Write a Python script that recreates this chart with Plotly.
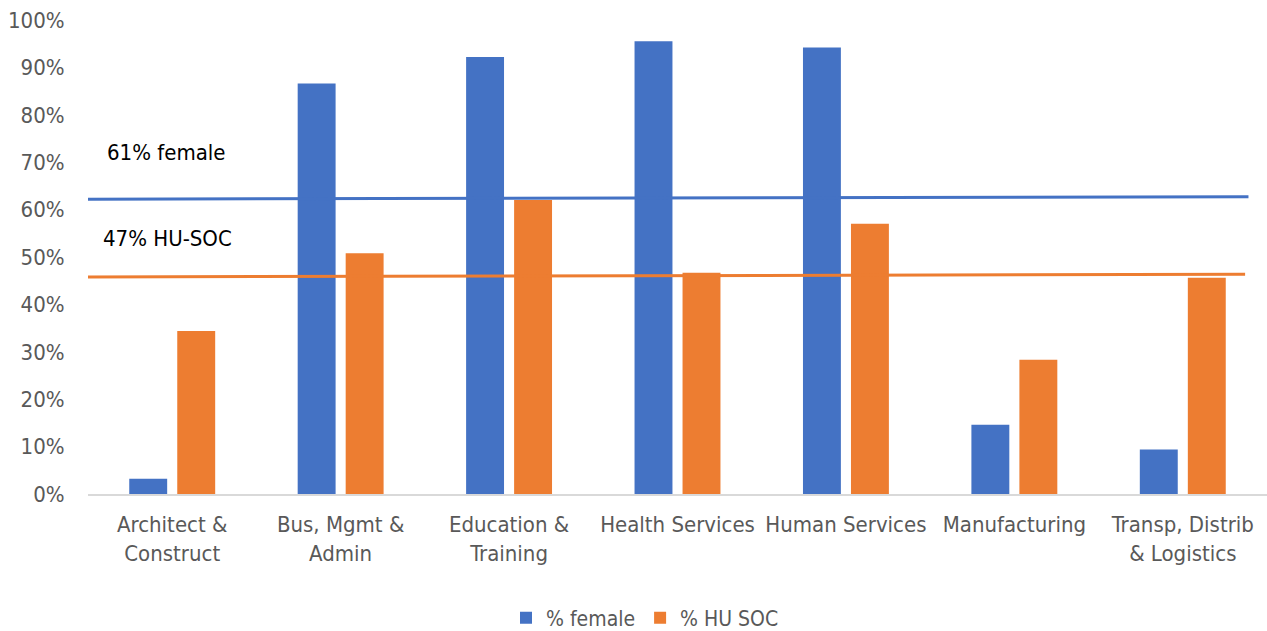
import plotly.graph_objects as go

categories = [
    "Architect &<br>Construct",
    "Bus, Mgmt &<br>Admin",
    "Education &<br>Training",
    "Health Services",
    "Human Services",
    "Manufacturing",
    "Transp, Distrib<br>& Logistics",
]
pct_female = [0.032, 0.866, 0.922, 0.955, 0.942, 0.146, 0.094]
pct_hu_soc = [0.344, 0.508, 0.620, 0.467, 0.570, 0.283, 0.456]

# overall reference lines (start/end positions along the category axis)
line_x_female = [-0.52, 6.39]
line_y_female = [0.622, 0.627]
line_x_hu = [-0.55, 6.37]
line_y_hu = [0.458, 0.4635]

tick_vals = [i / 10 for i in range(11)]
tick_text = [f"{i * 10}%" for i in range(11)]

BLUE = "#4472C4"
ORANGE = "#ED7D31"
FONT = "Liberation Sans Narrow, DejaVu Sans Condensed, Arial Narrow, sans-serif"

fig = go.Figure()
fig.add_trace(go.Bar(x=categories, y=pct_female, name="% female",
                     marker=dict(color=BLUE, line=dict(width=0))))
fig.add_trace(go.Bar(x=categories, y=pct_hu_soc, name="% HU SOC",
                     marker=dict(color=ORANGE, line=dict(width=0))))
fig.add_trace(go.Scatter(x=line_x_female, y=line_y_female, mode="lines",
                         line=dict(color=BLUE, width=3), xaxis="x2",
                         showlegend=False, hoverinfo="skip"))
fig.add_trace(go.Scatter(x=line_x_hu, y=line_y_hu, mode="lines",
                         line=dict(color=ORANGE, width=3), xaxis="x2",
                         showlegend=False, hoverinfo="skip"))

plot_l, plot_w, plot_b, plot_h = 88, 1267 - 88, 494, 474

fig.update_layout(
    width=1267, height=631,
    margin=dict(l=plot_l, r=0, t=20, b=137, autoexpand=False),
    paper_bgcolor="white", plot_bgcolor="white",
    font=dict(family=FONT, size=22, color="#595959"),
    barmode="group", bargap=0.43, bargroupgap=0.21,
    xaxis=dict(showgrid=False, showline=True, linecolor="#D9D9D9", linewidth=1.5,
               ticks="outside", ticklen=10, tickcolor="rgba(0,0,0,0)",
               tickangle=0, automargin=False,
               tickfont=dict(size=22, color="#595959"),
               range=[-0.5, 6.5], fixedrange=True),
    xaxis2=dict(overlaying="x", range=[-0.5, 6.5], visible=False, fixedrange=True),
    yaxis=dict(range=[0, 1], tickvals=tick_vals, ticktext=tick_text,
               showgrid=False, zeroline=False, showline=False,
               ticks="outside", ticklen=18, tickcolor="rgba(0,0,0,0)",
               automargin=False,
               tickfont=dict(size=22, color="#595959"), fixedrange=True),
    legend=dict(orientation="h", x=(645 - plot_l) / plot_w, xanchor="center",
                y=-(618 - plot_b) / plot_h, yanchor="middle",
                font=dict(size=21, color="#595959"), traceorder="normal",
                itemwidth=30, borderwidth=0, tracegroupgap=0),
    annotations=[
        dict(text="61% female", x=(105 - plot_l) / plot_w, y=0.72,
             xref="paper", yref="y", showarrow=False,
             xanchor="left", yanchor="middle",
             font=dict(size=22, color="#000000")),
        dict(text="47% HU-SOC", x=(101 - plot_l) / plot_w, y=0.54,
             xref="paper", yref="y", showarrow=False,
             xanchor="left", yanchor="middle",
             font=dict(size=22, color="#000000")),
    ],
)

fig.write_html("out.html")
